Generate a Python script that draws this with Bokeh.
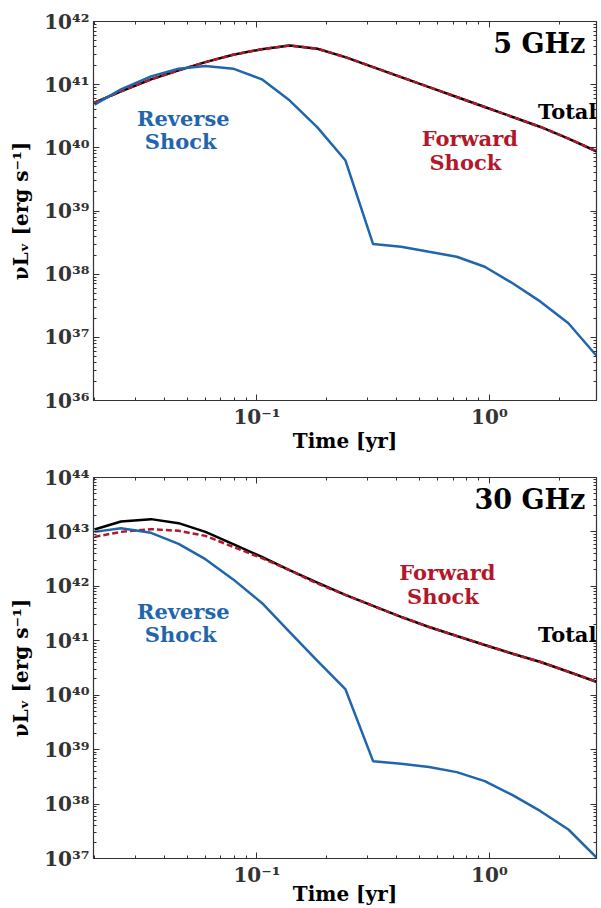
from bokeh.plotting import figure
from bokeh.models import LogAxis, CustomJSTickFormatter, Label, Range1d, FixedTicker
from bokeh.layouts import column
from bokeh.embed import file_html
from bokeh.resources import INLINE

# ---------------- data ----------------
time_yr = [0.020, 0.026, 0.035, 0.046, 0.060, 0.079, 0.105, 0.138, 0.182, 0.240,
           0.316, 0.417, 0.550, 0.724, 0.955, 1.259, 1.660, 2.188, 2.884]

total_5ghz = [5.20e40, 7.83e40, 1.213e41, 1.683e41, 2.275e41, 2.979e41, 3.648e41, 4.178e41, 3.707e41, 2.729e41,
              1.897e41, 1.318e41, 9.16e40, 6.37e40, 4.43e40, 3.08e40, 2.14e40, 1.403e40, 8.83e39]
forward_5ghz = [5.20e40, 7.83e40, 1.213e41, 1.683e41, 2.275e41, 2.979e41, 3.648e41, 4.178e41, 3.707e41, 2.729e41,
                1.897e41, 1.318e41, 9.16e40, 6.37e40, 4.43e40, 3.08e40, 2.14e40, 1.403e40, 8.83e39]
reverse_5ghz = [4.83e40, 8.43e40, 1.352e41, 1.791e41, 1.968e41, 1.791e41, 1.213e41, 5.65e40, 2.11e40, 6.37e39,
                3.00e38, 2.72e38, 2.26e38, 1.89e38, 1.31e38, 7.18e37, 3.67e37, 1.67e37, 5.15e36]

total_30ghz = [1.107e43, 1.552e43, 1.718e43, 1.449e43, 1.002e43, 5.96e42, 3.48e42, 1.982e42, 1.172e42, 6.97e41,
               4.37e41, 2.742e41, 1.795e41, 1.225e41, 8.38e40, 5.79e40, 4.07e40, 2.70e40, 1.770e40]
forward_30ghz = [8.11e42, 1.002e43, 1.125e43, 1.047e43, 8.47e42, 5.31e42, 3.30e42, 1.982e42, 1.122e42, 6.97e41,
                 4.37e41, 2.742e41, 1.795e41, 1.225e41, 8.38e40, 5.79e40, 4.07e40, 2.70e40, 1.770e40]
reverse_30ghz = [1.002e43, 1.172e43, 9.62e42, 6.04e42, 3.16e42, 1.343e42, 4.95e41, 1.452e41, 4.26e40, 1.300e40,
                 6.15e38, 5.50e38, 4.78e38, 3.86e38, 2.64e38, 1.459e38, 7.40e37, 3.41e37, 1.054e37]

x_major_ticks = [0.1, 1.0]
x_minor_ticks = [0.02, 0.03, 0.04, 0.05, 0.06, 0.07, 0.08, 0.09,
                 0.2, 0.3, 0.4, 0.5, 0.6, 0.7, 0.8, 0.9, 2.0, 3.0]
y_major_5ghz = [1e36, 1e37, 1e38, 1e39, 1e40, 1e41, 1e42]
y_major_30ghz = [1e37, 1e38, 1e39, 1e40, 1e41, 1e42, 1e43, 1e44]

x_label = "Time [yr]"
y_label = "\u03bdL\u1d65 [erg s\u207b\u00b9]"

FONT = "DejaVu Serif"
BLUE = "#2166ac"
RED = "#b2182b"
AXC = "#333333"

fmt_code = """
const e = Math.round(Math.log10(tick));
const sup = {"-":"\u207b","0":"\u2070","1":"\u00b9","2":"\u00b2","3":"\u00b3","4":"\u2074",
             "5":"\u2075","6":"\u2076","7":"\u2077","8":"\u2078","9":"\u2079"};
let s = "";
for (const c of String(e)) { s += sup[c]; }
return "10" + s;
"""


def minor_for(majors):
    out = []
    for m in majors:
        for k in range(2, 10):
            out.append(k * m)
    return out


def style_axis(ax, show_labels):
    ax.axis_line_color = AXC
    ax.axis_line_width = 1.2
    ax.major_tick_line_color = AXC
    ax.minor_tick_line_color = AXC
    ax.major_tick_in = 6
    ax.major_tick_out = 0
    ax.minor_tick_in = 3
    ax.minor_tick_out = 0
    if show_labels:
        ax.major_label_text_font = FONT
        ax.major_label_text_font_style = "bold"
        ax.major_label_text_font_size = "20px"
        ax.major_label_text_color = AXC
        ax.major_label_standoff = 4
        ax.formatter = CustomJSTickFormatter(code=fmt_code)
        ax.axis_label_text_font = FONT
        ax.axis_label_text_font_style = "bold"
        ax.axis_label_text_font_size = "20px"
        ax.axis_label_text_color = "black"
    else:
        ax.major_label_text_font_size = "0px"
        ax.major_label_standoff = 0
        ax.major_label_text_alpha = 0


def make_panel(total, fwd, rev, y_lo, y_hi, y_major, height, top_b, bot_b, xlab_standoff, texts):
    p = figure(width=601, height=height, x_axis_type="log", y_axis_type="log",
               x_range=Range1d(0.0198, 2.89), y_range=Range1d(y_lo, y_hi),
               output_backend="svg", toolbar_location=None,
               min_border_left=93, min_border_right=5,
               min_border_top=top_b, min_border_bottom=bot_b)
    p.background_fill_color = "white"
    p.border_fill_color = "white"
    p.outline_line_color = AXC
    p.grid.visible = False

    p.line(time_yr, total, color="black", line_width=2.5)
    p.line(time_yr, fwd, color=RED, line_width=2.5, line_dash="6 3")
    p.line(time_yr, rev, color=BLUE, line_width=2.5)

    xt = FixedTicker(ticks=x_major_ticks, minor_ticks=x_minor_ticks)
    yt = FixedTicker(ticks=y_major, minor_ticks=minor_for(y_major))

    xa = p.xaxis[0]
    ya = p.yaxis[0]
    xa.ticker = xt
    ya.ticker = yt
    style_axis(xa, True)
    style_axis(ya, True)
    xa.axis_label = x_label
    xa.axis_label_standoff = xlab_standoff
    ya.axis_label = y_label
    ya.axis_label_standoff = 8

    top = LogAxis(ticker=FixedTicker(ticks=x_major_ticks, minor_ticks=x_minor_ticks))
    right = LogAxis(ticker=FixedTicker(ticks=y_major, minor_ticks=minor_for(y_major)))
    style_axis(top, False)
    style_axis(right, False)
    p.add_layout(top, "above")
    p.add_layout(right, "right")

    for (txt, x, y, align, color, size) in texts:
        p.add_layout(Label(x=x, y=y, text=txt, text_align=align, text_baseline="alphabetic",
                           text_color=color, text_font=FONT, text_font_style="bold",
                           text_font_size=size))
    return p


texts_5 = [
    ("5 GHz", 2.59, 4.5e41, "right", "black", "27px"),
    ("Total", 2.888, 3.8e40, "right", "black", "21px"),
    ("Forward", 0.824, 1.4e40, "center", RED, "21px"),
    ("Shock", 0.788, 5.8e39, "center", RED, "21px"),
    ("Reverse", 0.0482, 2.95e40, "center", BLUE, "21px"),
    ("Shock", 0.0470, 1.27e40, "center", BLUE, "21px"),
]
texts_30 = [
    ("30 GHz", 2.59, 4.0e43, "right", "black", "27px"),
    ("Total", 2.888, 1.3e41, "right", "black", "21px"),
    ("Forward", 0.659, 1.8e42, "center", RED, "21px"),
    ("Shock", 0.631, 6.5e41, "center", RED, "21px"),
    ("Reverse", 0.0482, 3.5e41, "center", BLUE, "21px"),
    ("Shock", 0.0470, 1.28e41, "center", BLUE, "21px"),
]

p1 = make_panel(total_5ghz, forward_5ghz, reverse_5ghz, 1e36, 1e42, y_major_5ghz,
                455, 21, 54, -3, texts_5)
p2 = make_panel(total_30ghz, forward_30ghz, reverse_30ghz, 1e37, 1e44, y_major_30ghz,
                453, 22, 50, -8, texts_30)

layout = column(p1, p2, spacing=0)
open("out.html", "w").write(file_html(layout, INLINE))
